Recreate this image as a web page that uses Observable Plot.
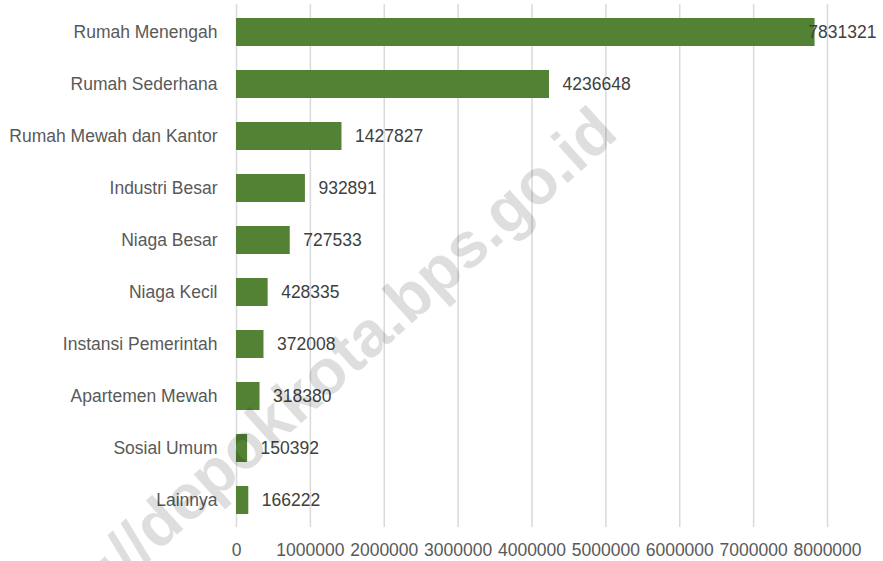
<!DOCTYPE html>
<html>
<head>
<meta charset="utf-8">
<script src="https://cdn.jsdelivr.net/npm/d3@7"></script>
<script src="https://cdn.jsdelivr.net/npm/@observablehq/plot@0.6"></script>
<style>
  html, body { margin: 0; padding: 0; background: #ffffff; }
  #chart { width: 883px; height: 561px; overflow: hidden; position: relative; }
</style>
</head>
<body>
<div id="chart"></div>
<script>
const categories = ["Rumah Menengah", "Rumah Sederhana", "Rumah Mewah dan Kantor", "Industri Besar", "Niaga Besar", "Niaga Kecil", "Instansi Pemerintah", "Apartemen Mewah", "Sosial Umum", "Lainnya"];
const values = [7831321, 4236648, 1427827, 932891, 727533, 428335, 372008, 318380, 150392, 166222];
const xTicks = [0, 1000000, 2000000, 3000000, 4000000, 5000000, 6000000, 7000000, 8000000];
const watermarkText = "http://depokkota.bps.go.id";

const data = categories.map((c, i) => ({category: c, value: values[i]}));
const FONT = "'Liberation Sans', Arial, sans-serif";
const fmt = d3.format("d");

const plot = Plot.plot({
  width: 883,
  height: 561,
  marginLeft: 236,
  marginRight: 56,
  marginTop: 4,
  marginBottom: 34,
  style: {fontFamily: FONT, fontSize: "17.5px", background: "#ffffff", overflow: "visible"},
  x: {domain: [0, 8000000], ticks: xTicks},
  y: {domain: categories, paddingInner: 0.47, paddingOuter: 0.235},
  marks: [
    Plot.gridX(xTicks, {stroke: "#d9d9d9", strokeOpacity: 1, strokeWidth: 1.5}),
    Plot.barX(data, {x: "value", y: "category", fill: "#548235"}),
    Plot.text(data.filter(d => d.value < 7000000), {
      x: "value", y: "category", text: d => fmt(d.value),
      textAnchor: "start", dx: 13, fill: "#404040", fontSize: 17.5
    }),
    Plot.text(data.filter(d => d.value >= 7000000), {
      y: "category", text: d => fmt(d.value), frameAnchor: "right",
      textAnchor: "end", dx: 49, fill: "#404040", fontSize: 17.5
    }),
    Plot.axisY({tickSize: 0, tickPadding: 19, fill: "#595959", fontSize: 17.5, label: null}),
    Plot.axisX(xTicks, {tickSize: 0, tickPadding: 16, fill: "#595959", fontSize: 17.5, label: null, tickFormat: fmt})
  ]
});

document.getElementById("chart").appendChild(plot);

// faint diagonal watermark from the source image
d3.select(plot).append("text")
  .attr("transform", "translate(620,136) rotate(-42)")
  .attr("text-anchor", "end")
  .attr("font-family", FONT)
  .attr("font-weight", "bold")
  .attr("font-size", 64)
  .attr("fill", "#000000")
  .attr("fill-opacity", 0.13)
  .text(watermarkText);
</script>
</body>
</html>
